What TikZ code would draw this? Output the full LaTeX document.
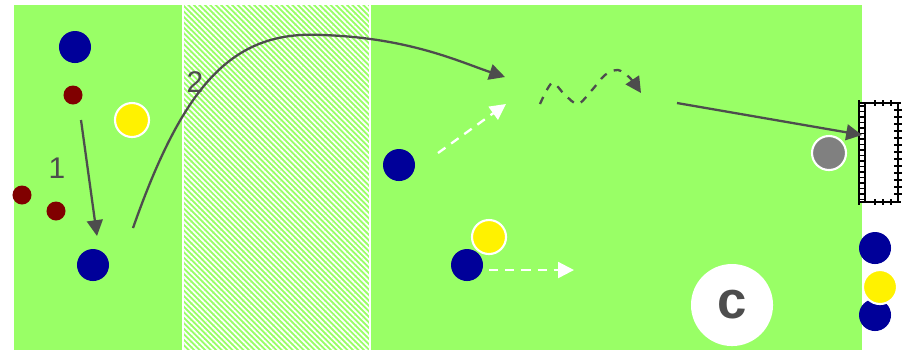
\documentclass[tikz,border=0pt]{standalone}
\usepackage{fontspec}
\setmainfont{Liberation Sans}
\usetikzlibrary{arrows.meta,patterns.meta}
\definecolor{pitch}{RGB}{153,255,102}
\definecolor{teamblue}{RGB}{0,0,153}
\definecolor{teamred}{RGB}{128,0,0}
\definecolor{ink}{RGB}{77,77,77}

\begin{document}
\begin{tikzpicture}[x=0.01cm,y=-0.01cm,
    blueplayer/.style={circle,fill=teamblue,inner sep=0pt,minimum size=0.32cm},
    redcone/.style={circle,fill=teamred,inner sep=0pt,minimum size=0.19cm},
    yellowplayer/.style={circle,fill=yellow,draw=white,line width=0.6pt,inner sep=0pt,minimum size=0.34cm},
    keeper/.style={yellowplayer,fill=gray},
    pass/.style={ink,line width=0.65pt,-{Triangle[length=4.5pt,width=4.5pt]}},
    dribble/.style={pass,dash pattern=on 2.2pt off 2.2pt},
    run/.style={white,line width=0.65pt,dash pattern=on 2.6pt off 2pt,-{Triangle[length=4.5pt,width=4.5pt]}},
    number/.style={ink,font=\fontsize{8.5}{10}\selectfont,inner sep=0pt},
    net/.style={black,line width=0.35pt}]
            \useasboundingbox (0,0) rectangle (910,350);
            % pitch and neutral zone
            \fill[pitch] (14,5) rectangle (862,350);
            \fill[pattern={Lines[angle=-45,distance=1.1pt,line width=0.5pt]},pattern color=white] (183,5) rectangle (370,350);
            \draw[white,line width=0.4pt] (183,5) -- (183,350) (370,5) -- (370,350);
            % goal
            \fill[white] (859,103) rectangle (898,202);
            \draw[net] (859,100) -- (859,205) (865,103) -- (865,202);
            \foreach \y in {106,111.5,...,201} \draw[net] (859,\y) -- (865,\y);
            \draw[net] (859,103) -- (901,103) (859,202) -- (901,202) (898,103) -- (898,202);
            \foreach \x in {875,883,891} {
                \draw[net] (\x,100) -- (\x,106);
                \draw[net] (\x,199) -- (\x,205);
            }
            \foreach \y in {110,117,...,196} \draw[net] (894,\y) -- (902,\y);
            % players
            \node[blueplayer] (b1) at (75,47) {};
            \node[redcone] (r1) at (73,95) {};
            \node[yellowplayer] (y1) at (132,120) {};
            \node[redcone] (r2) at (22,195) {};
            \node[redcone] (r3) at (56,211) {};
            \node[blueplayer] (b2) at (93,265) {};
            \node[blueplayer] (b3) at (399,165) {};
            \node[yellowplayer] (y2) at (489,237) {};
            \node[blueplayer] (b4) at (467,265) {};
            \node[keeper] (gk) at (829,153) {};
            \node[blueplayer] (b5) at (875,248) {};
            \node[blueplayer] (b6) at (875,315) {};
            \node[yellowplayer] (y3) at (880,287) {};
            \node[circle,fill=white,inner sep=0pt,minimum size=0.82cm,text=ink,font=\bfseries\fontsize{15}{15}\selectfont] (coach) at (732,305) {c};
            % labels
            \node[number] (n1) at (57,168) {1};
            \node[number] (n2) at (195,82) {2};
            % paths
            \coordinate (p1a) at (81,120);
            \coordinate (p1b) at (97,236);
            \coordinate (p2a) at (133,228);
            \coordinate (p2top) at (323,35);
            \coordinate (p2b) at (505,77);
            \coordinate (shot) at (677,103);
            \coordinate (post) at (862,135);
            \coordinate (runa) at (438,153);
            \coordinate (runb) at (506,104);
            \coordinate (runc) at (489,270);
            \coordinate (rund) at (574,270);
            \draw[pass] (p1a) -- (p1b);
            \draw[pass] (p2a) .. controls (185,80) and (235,30) .. (p2top) .. controls (410,38) and (460,62) .. (p2b);
            \draw[dribble] plot[smooth] coordinates {(540,104) (552,83) (565,95) (578,104) (592,90) (605,75) (618,70) (630,78) (641,93)};
            \draw[pass] (shot) -- (post);
            \draw[run] (runa) -- (runb);
            \draw[run] (runc) -- (rund);
        \end{tikzpicture}
\end{document}
